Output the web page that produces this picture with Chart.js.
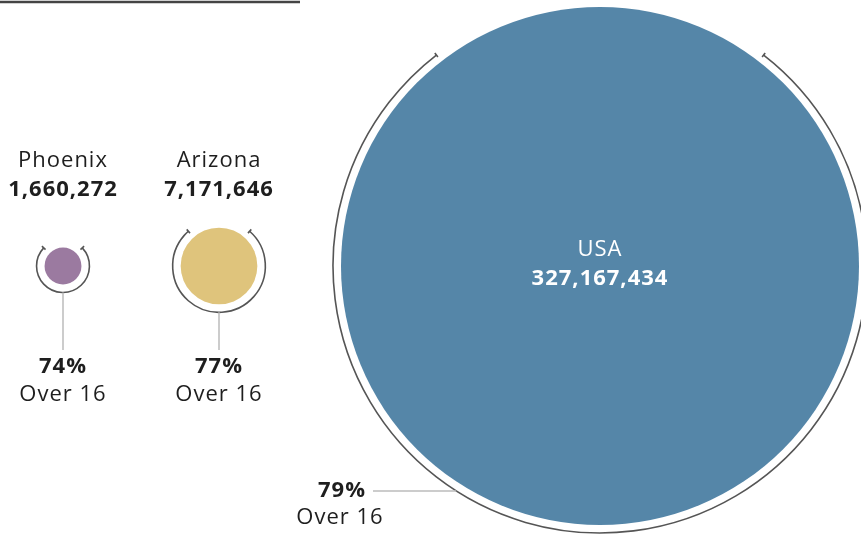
<!DOCTYPE html>
<html>
<head>
<meta charset="utf-8">
<script src="https://cdn.jsdelivr.net/npm/chart.js@4/dist/chart.umd.min.js"></script>
<style>
  body { margin: 0; background: #fff; }
  #wrap { width: 861px; height: 540px; position: relative; }
</style>
</head>
<body>
<div id="wrap"><canvas id="grafico" width="861" height="540"></canvas></div>
<script>
// Populações e percentual acima de 16 anos
const lugares = ["Phoenix", "Arizona", "USA"];
const populacao = [1660272, 7171646, 327167434];
const acima16 = [74, 77, 79];

// Layout: centro horizontal de cada círculo e linha de base comum
const centroX = [63, 219, 600];
const centroY = 266;
const cores = ["#9b7aa0", "#dfc47c", "#5586a8"];
const escalaRaio = 259 / Math.sqrt(327167434); // área proporcional à população
const folgaArco = 8;

function raio(pop) {
  return Math.sqrt(pop) * escalaRaio;
}

function formatar(n) {
  return n.toLocaleString("en-US");
}

function texto(ctx, str, x, y, peso, cor, alinhamento) {
  ctx.font = (peso === "bold" ? "bold " : "") + "22px 'Open Sans'";
  ctx.fillStyle = cor;
  ctx.textAlign = alinhamento || "center";
  ctx.textBaseline = "middle";
  ctx.letterSpacing = "1px";
  ctx.fillText(str, x, y);
}

// Plugin que desenha os arcos de percentual, as linhas-guia e os rótulos
const arcosPlugin = {
  id: "arcos",
  afterDatasetsDraw(chart) {
    const ctx = chart.ctx;
    const pontos = chart.getDatasetMeta(0).data;
    ctx.save();

    // linha no topo
    ctx.strokeStyle = "#444";
    ctx.lineWidth = 2.5;
    ctx.beginPath();
    ctx.moveTo(0, 2);
    ctx.lineTo(300, 2);
    ctx.stroke();

    pontos.forEach((p, i) => {
      const r = raio(populacao[i]);
      const R = r + folgaArco;
      const meiaFolga = (1 - acima16[i] / 100) * Math.PI;
      const inicio = -Math.PI / 2 + meiaFolga;
      const fim = 3 * Math.PI / 2 - meiaFolga;

      ctx.strokeStyle = "#555";
      ctx.lineWidth = 1.6;
      ctx.beginPath();
      ctx.arc(p.x, p.y, R, inicio, fim, false);
      ctx.stroke();

      // marquinhas nas pontas
      [inicio, fim].forEach(a => {
        ctx.beginPath();
        ctx.moveTo(p.x + Math.cos(a) * (R - 2.5), p.y + Math.sin(a) * (R - 2.5));
        ctx.lineTo(p.x + Math.cos(a) * (R + 2.5), p.y + Math.sin(a) * (R + 2.5));
        ctx.stroke();
      });

      ctx.strokeStyle = "#bbb";
      ctx.lineWidth = 1.5;

      if (i < 2) {
        // nome e população acima, percentual abaixo
        texto(ctx, lugares[i], p.x, 161, "normal", "#1e1e1e");
        texto(ctx, formatar(populacao[i]), p.x, 190, "bold", "#1e1e1e");

        ctx.beginPath();
        ctx.moveTo(p.x, p.y + R);
        ctx.lineTo(p.x, 350);
        ctx.stroke();

        texto(ctx, acima16[i] + "%", p.x, 367, "bold", "#1e1e1e");
        texto(ctx, "Over 16", p.x, 395, "normal", "#1e1e1e");
      } else {
        // círculo grande: rótulo dentro, percentual à esquerda
        texto(ctx, lugares[i], p.x, 250, "normal", "#fff");
        texto(ctx, formatar(populacao[i]), p.x, 279, "bold", "#fff");

        const yLinha = 491;
        const dy = yLinha - p.y;
        const xArco = p.x - Math.sqrt(R * R - dy * dy);
        ctx.beginPath();
        ctx.moveTo(373, yLinha);
        ctx.lineTo(xArco, yLinha);
        ctx.stroke();

        texto(ctx, acima16[i] + "%", 366, 491, "bold", "#1e1e1e", "right");
        texto(ctx, "Over 16", 340, 518, "normal", "#1e1e1e");
      }
    });

    ctx.restore();
  }
};

function criarGrafico() {
  const ctx = document.getElementById("grafico").getContext("2d");

  new Chart(ctx, {
    type: "bubble",
    data: {
      labels: lugares,
      datasets: [{
        data: populacao.map((pop, i) => ({ x: centroX[i], y: centroY, r: raio(pop) })),
        backgroundColor: cores,
        borderWidth: 0,
        hoverBorderWidth: 0,
        clip: false
      }]
    },
    options: {
      responsive: false,
      animation: false,
      events: [],
      layout: { padding: 0, autoPadding: false },
      plugins: {
        legend: { display: false },
        tooltip: { enabled: false }
      },
      scales: {
        x: { type: "linear", display: false, min: 0, max: 861 },
        y: { type: "linear", display: false, min: 0, max: 540, reverse: true }
      }
    },
    plugins: [arcosPlugin]
  });
}

criarGrafico();
</script>
</body>
</html>
